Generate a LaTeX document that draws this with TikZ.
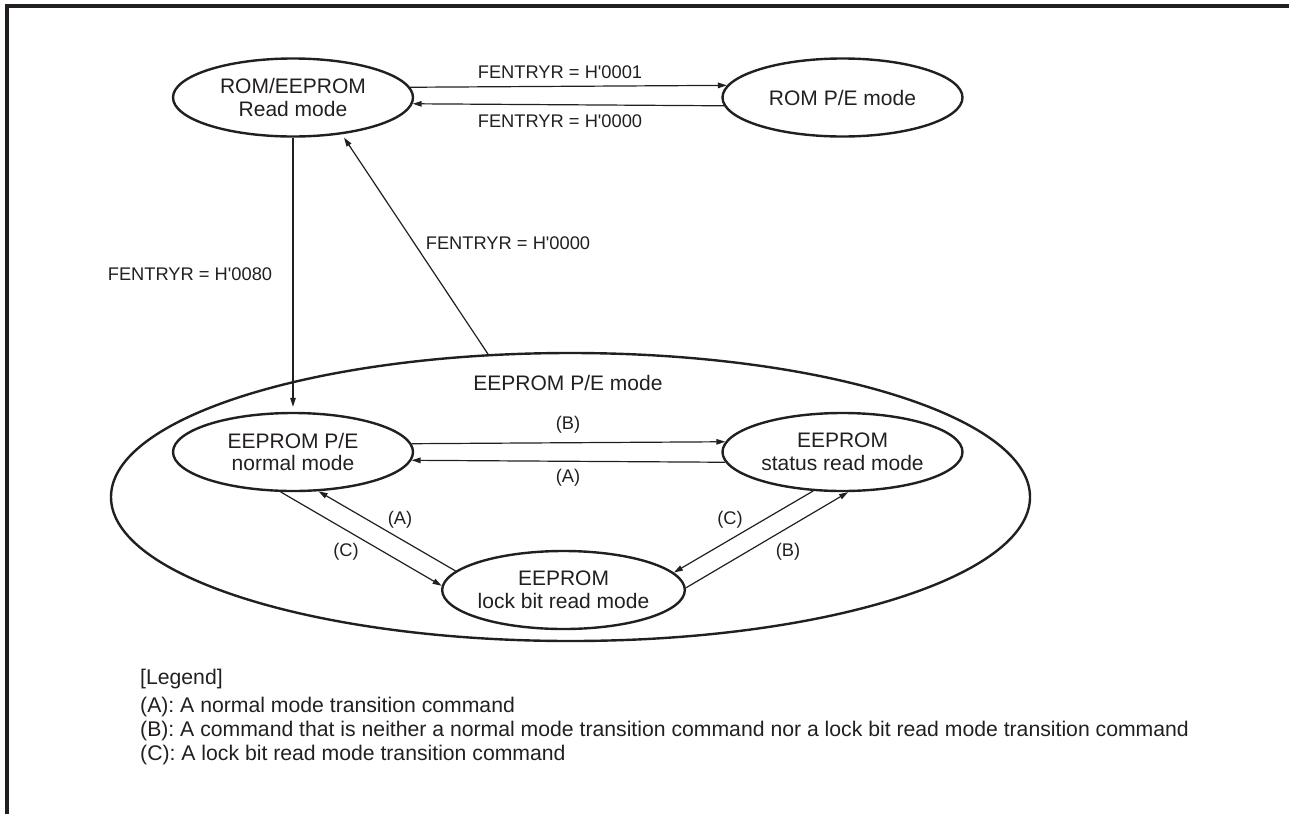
\documentclass[tikz,border=0pt]{standalone}
\usepackage{fontspec}
% keep the apostrophe in H'xxxx straight
\setmainfont{Liberation Sans}[Ligatures=TeXOff]
\usetikzlibrary{shapes.geometric,arrows.meta}
\definecolor{ink}{RGB}{35,31,32}
\begin{document}
\begin{tikzpicture}[x=1pt,y=-1pt,
  state/.style={ellipse,draw=ink,line width=2.4pt,inner sep=0pt,
    minimum width=240pt,minimum height=78pt,align=center,text=ink,
    font=\fontsize{21}{22.5}\selectfont},
  lbl/.style={text=ink,inner sep=0pt,font=\fontsize{18.3}{20}\selectfont},
  legend/.style={text=ink,inner sep=0pt,anchor=west,font=\fontsize{21.2}{23}\selectfont},
  arr/.style={draw=ink,line width=1.2pt,-{Triangle[length=9pt,width=5.5pt]}},
]
\useasboundingbox (0,0) rectangle (1289,814);

% frame: top and left rules
\draw[ink,line width=4pt] (7,814) -- (7,6) -- (1289,6);

% outer EEPROM P/E mode region
\node[ellipse,draw=ink,line width=2.4pt,inner sep=0pt,
      minimum width=919pt,minimum height=288pt] (pe) at (570.5,497) {};
\node[lbl,font=\fontsize{21}{22.5}\selectfont] (pelbl) at (568,383) {EEPROM P/E mode};

% states
\node[state] (rr)   at (293,97.5)  {ROM/EEPROM\\Read mode};
\node[state] (rom)  at (842.5,97.5) {ROM P/E mode};
\node[state] (norm) at (293,452)   {EEPROM P/E\\normal mode};
\node[state] (stat) at (842.5,452) {EEPROM\\status read mode};
\node[state] (lock) at (563.5,590) {EEPROM\\lock bit read mode};

% ROM/EEPROM read <-> ROM P/E
\draw[arr] (rr.5.7) -- (rom.174.3);
\draw[arr] (rom.-176.35) -- (rr.-3.65);
\node[lbl] (l1) at (560,72)  {FENTRYR = H'0001};
\node[lbl] (l2) at (560,121) {FENTRYR = H'0000};

% ROM/EEPROM read <-> EEPROM P/E
\draw[arr,shorten >=5pt] (rr.south) -- (norm.north);
\node[lbl] (l3) at (190,274) {FENTRYR = H'0080};
\draw[arr,shorten >=4pt] (pe.120) -- (rr.-37);
\node[lbl] (l4) at (508,243) {FENTRYR = H'0000};

% normal <-> status
\draw[arr] (norm.4.93) -- (stat.175.07);
\draw[arr] (stat.-175.6) -- (norm.-4.4);
\node[lbl] (lb1) at (568,425) {(B)};
\node[lbl] (la1) at (568,478) {(A)};

% normal <-> lock bit
\draw[arr] (lock.170.5) -- (norm.-57);
\draw[arr] (norm.-107) -- (lock.178);
\node[lbl] (la2) at (400,520) {(A)};
\node[lbl] (lc2) at (346,552) {(C)};

% status <-> lock bit
\draw[arr] (stat.-127) -- (lock.9.3);
\draw[arr] (lock.1.5) -- (stat.-82);
\node[lbl] (lc3) at (730,520) {(C)};
\node[lbl] (lb3) at (788,552) {(B)};

% legend
\node[legend] (lg0) at (140,679) {[Legend]};
\node[legend] (lg1) at (140,707) {(A): A normal mode transition command};
\node[legend] (lg2) at (140,731) {(B): A command that is neither a normal mode transition command nor a lock bit read mode transition command};
\node[legend] (lg3) at (140,755) {(C): A lock bit read mode transition command};
\end{tikzpicture}
\end{document}
